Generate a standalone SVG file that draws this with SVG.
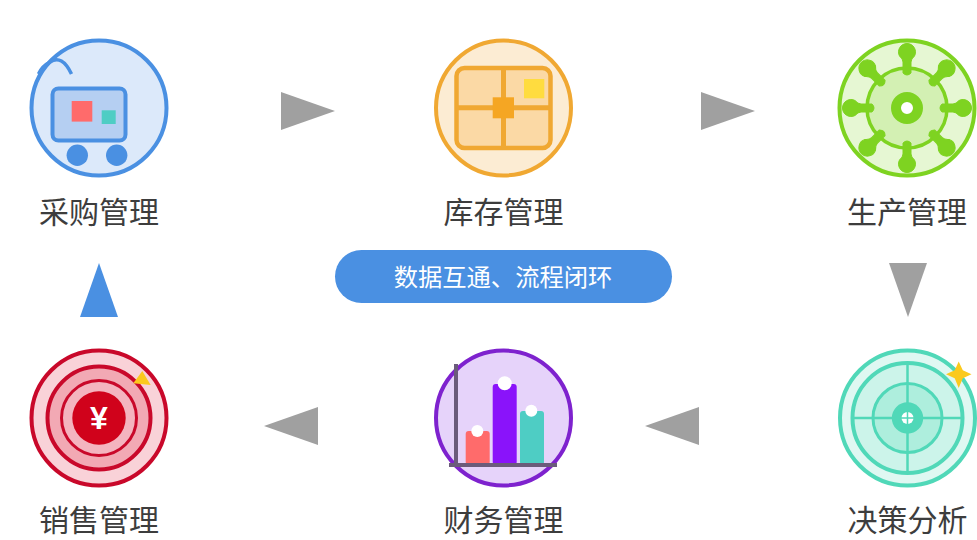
<svg xmlns="http://www.w3.org/2000/svg" width="977" height="540" viewBox="0 0 977 540">
<defs>
<style>
text{font-family:"Noto Sans CJK SC","Liberation Sans",sans-serif;text-anchor:middle}
.label{font-size:30px;fill:#3d3d3d}
.tri{fill:#a0a0a0}
.ring{stroke-width:4}
</style>
<g id="spoke"><path d="M-4 -35Q0 -31 4 -35V-46Q4 -49 7.500 -52A8.500 8.500 0 1 0 -7.500 -52Q-4 -49 -4 -46Z" fill="#7ed321" stroke="#7ed321" stroke-linejoin="round" stroke-width="1"/></g>
</defs>
<rect width="977" height="540" fill="#ffffff"/>
<g id="connectors">
<polygon class="tri" points="281,92 335,111 281,130"/>
<polygon class="tri" points="701,92 755,111 701,130"/>
<polygon class="tri" points="889,263 927,263 908,317"/>
<polygon class="tri" points="699,407 645,426 699,445"/>
<polygon class="tri" points="318,407 264,426 318,445"/>
<polygon fill="#4a90e2" points="80,317 118,317 99,263"/>
</g>
<g id="node-purchase">
<circle class="ring" cx="99" cy="108" r="67.500" fill="#dce9fa" stroke="#4a90e2"/>
<path d="M38.500 74Q42 66 50 62Q62 54 71.500 74" fill="none" stroke="#4a90e2" stroke-width="3.500"/>
<rect x="52.500" y="88.500" width="73" height="52" rx="6" fill="#b5cff2" stroke="#4a90e2" stroke-width="4"/>
<rect x="71.700" y="101" width="20.600" height="20.600" fill="#ff6b6b"/>
<rect x="101.700" y="110.300" width="14" height="13.700" fill="#4ecdc4"/>
<circle cx="77.300" cy="155.300" r="10.700" fill="#4a90e2"/>
<circle cx="116.700" cy="155.300" r="10.700" fill="#4a90e2"/>
<text class="label" x="99" y="223">采购管理</text>
</g>
<g id="node-inventory">
<circle class="ring" cx="503.500" cy="108" r="67.500" fill="#fcecd3" stroke="#f0a832"/>
<rect x="456.500" y="68" width="94" height="80" rx="8" fill="#fbd9a5" stroke="#f0a832" stroke-width="4.500"/>
<path d="M503.500 68V148M456.500 107.700H550.500" stroke="#f0a832" stroke-width="5"/>
<rect x="492.700" y="97.300" width="21.300" height="21" fill="#f5a623"/>
<rect x="524" y="79" width="20.300" height="19.300" fill="#ffdc3f"/>
<text class="label" x="503.500" y="223">库存管理</text>
</g>
<g id="node-production">
<circle class="ring" cx="907" cy="108" r="67.500" fill="#e6f7d3" stroke="#7ed321"/>
<circle cx="907" cy="108" r="40" fill="#d3f0b3" stroke="#7ed321" stroke-width="3.500"/>
<use href="#spoke" transform="translate(907 108)"/>
<use href="#spoke" transform="translate(907 108) rotate(45)"/>
<use href="#spoke" transform="translate(907 108) rotate(90)"/>
<use href="#spoke" transform="translate(907 108) rotate(135)"/>
<use href="#spoke" transform="translate(907 108) rotate(180)"/>
<use href="#spoke" transform="translate(907 108) rotate(225)"/>
<use href="#spoke" transform="translate(907 108) rotate(270)"/>
<use href="#spoke" transform="translate(907 108) rotate(315)"/>
<circle cx="907" cy="108" r="11" fill="#ffffff" stroke="#7ed321" stroke-width="10"/>
<text class="label" x="907" y="223">生产管理</text>
</g>
<g id="node-decision">
<circle class="ring" cx="907.500" cy="418" r="67.500" fill="#dff8f2" stroke="#50d8b8"/>
<circle cx="907.500" cy="418" r="55" fill="#ccf4ea" stroke="#50d8b8" stroke-width="4"/>
<circle cx="907.500" cy="418" r="34.500" fill="#aeeedd" stroke="#50d8b8" stroke-width="3"/>
<path d="M907.500 364V472M853.500 418H961.500" stroke="#50d8b8" stroke-width="2.500"/>
<circle cx="907.500" cy="418" r="15.700" fill="#50d8b8"/>
<circle cx="907.500" cy="418" r="6" fill="#ffffff"/>
<path d="M907.500 411V425M900.500 418H914.500" stroke="#50d8b8" stroke-width="1.500"/>
<polygon fill="#fbc91e" points="958.700,361.500 962.800,370.300 971.500,374.300 962.800,378.300 958.700,388 954.700,378.300 946,374.300 954.700,370.300"/>
<text class="label" x="907.500" y="531">决策分析</text>
</g>
<g id="node-finance">
<circle class="ring" cx="503.500" cy="418" r="67.500" fill="#e6d3fa" stroke="#7e22ce"/>
<rect x="465.700" y="431" width="24" height="34" rx="3" fill="#ff6b6b"/>
<rect x="492.700" y="384" width="24" height="81" rx="3" fill="#8a13fa"/>
<rect x="520" y="411" width="24" height="54" rx="3" fill="#4ecdc4"/>
<circle cx="477.300" cy="431" r="6" fill="#ffffff"/>
<circle cx="504.700" cy="383.300" r="7" fill="#ffffff"/>
<circle cx="531.300" cy="410.700" r="6" fill="#ffffff"/>
<path d="M456 364V466M449 465H557" fill="none" stroke="#6b5b7b" stroke-width="4"/>
<text class="label" x="503.500" y="531">财务管理</text>
</g>
<g id="node-sales">
<circle class="ring" cx="99" cy="418" r="67.500" fill="#f9d2d8" stroke="#c9082a"/>
<circle cx="99" cy="418" r="51.500" fill="#f2a9b4" stroke="#c9082a" stroke-width="4"/>
<circle cx="99" cy="418" r="37.500" fill="#f4b4bf" stroke="#c9082a" stroke-width="3"/>
<circle cx="99" cy="418" r="26.700" fill="#d0021b"/>
<text x="99" y="428.500" font-size="32" font-weight="700" fill="#ffffff" style="font-family:'Liberation Sans',sans-serif">¥</text>
<polygon fill="#fbc91e" points="133.300,383.300 142.300,371 150.700,385"/>
<text class="label" x="99" y="531">销售管理</text>
</g>
<g id="node-center">
<rect x="335" y="250" width="337" height="53" rx="26.500" fill="#4a90e2"/>
<text x="503" y="286" font-size="24.300" fill="#ffffff">数据互通、流程闭环</text>
</g>
</svg>
